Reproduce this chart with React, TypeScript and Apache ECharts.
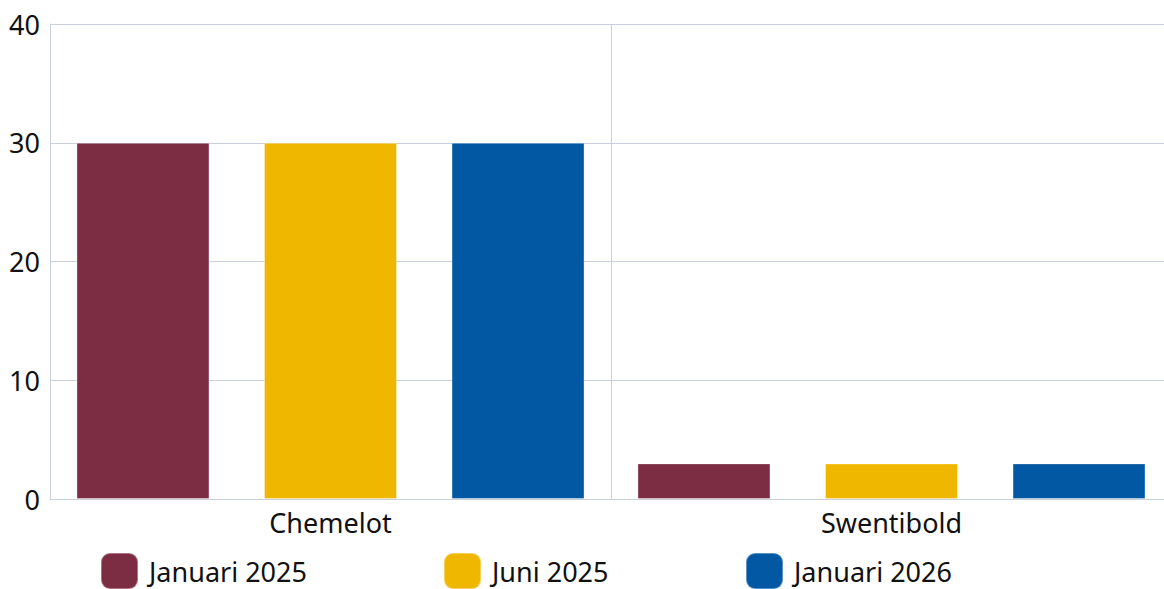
import React, { useEffect, useRef } from "react";
import * as echarts from "echarts";

const categories = ["Chemelot", "Swentibold"];
const seriesNames = ["Januari 2025", "Juni 2025", "Januari 2026"];
const jan2025 = [30, 3];
const jun2025 = [30, 3];
const jan2026 = [30, 3];
const colors = ["#7c2c43", "#f0b700", "#0358a4"];
const yTicks = { min: 0, max: 40, interval: 10 };

const FONT = "'Noto Sans', sans-serif";
const GRID_COLOR = "#c8d0dc";
const FS = 27;

export default function App() {
  const ref = useRef<HTMLDivElement>(null);
  useEffect(() => {
    if (!ref.current) return;
    const chart = echarts.init(ref.current, undefined, { renderer: "svg" });
    const values = [jan2025, jun2025, jan2026];
    const legendLefts = [100, 443, 745];
    chart.setOption({
      animation: false,
      textStyle: { fontFamily: FONT },
      grid: { left: 50, right: 0, top: 24, bottom: 90, containLabel: false },
      legend: seriesNames.map((n, i) => ({
        data: [n],
        left: legendLefts[i],
        top: 552,
        itemWidth: 37,
        itemHeight: 36,
        itemGap: 10,
        padding: 0,
        icon: "roundRect",
        textStyle: { fontFamily: FONT, fontSize: FS, lineHeight: 26, color: "#111", padding: [0, 0, 0, 6] },
      })),
      xAxis: {
        type: "category",
        data: categories,
        axisLine: { show: true, lineStyle: { color: GRID_COLOR, width: 1 } },
        axisTick: { show: false },
        splitLine: { show: true, lineStyle: { color: GRID_COLOR, width: 1 } },
        axisLabel: { fontFamily: FONT, fontSize: FS, color: "#111", margin: 10 },
      },
      yAxis: {
        type: "value",
        min: yTicks.min,
        max: yTicks.max,
        interval: yTicks.interval,
        axisLine: { show: true, lineStyle: { color: GRID_COLOR, width: 1 } },
        axisTick: { show: false },
        splitLine: { show: true, lineStyle: { color: GRID_COLOR, width: 1 } },
        axisLabel: { fontFamily: FONT, fontSize: FS, color: "#111", margin: 10 },
      },
      series: seriesNames.map((n, i) => ({
        name: n,
        type: "bar",
        data: values[i],
        barWidth: 133,
        barGap: "41%",
        itemStyle: {
          color: colors[i],
          borderColor: "rgba(255,255,255,0.35)",
          borderWidth: 1,
        },
      })),
    });
    return () => chart.dispose();
  }, []);
  return (
    <div style={{ position: "fixed", left: 0, top: 0, width: 1164, height: 589, overflow: "hidden", background: "#fff" }}>
      <div ref={ref} style={{ width: 1172, height: 589 }} />
    </div>
  );
}
